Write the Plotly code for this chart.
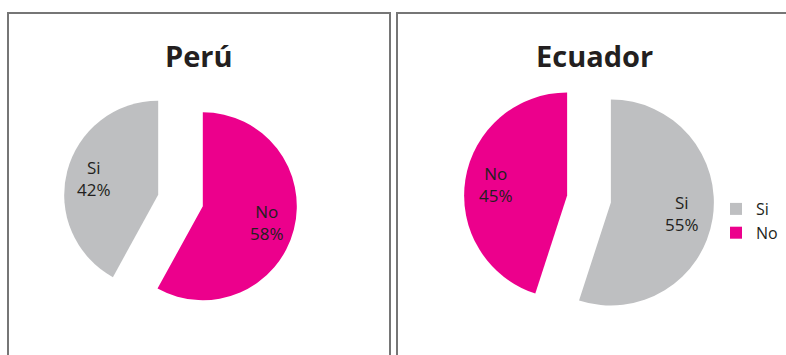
import math
import plotly.graph_objects as go

# Survey answers per country (percent)
peru_labels = ["No", "Si"]
peru_values = [58, 42]
ecuador_labels = ["Si", "No"]
ecuador_values = [55, 45]
titles = ["Perú", "Ecuador"]

colors = {"Si": "#BEBFC1", "No": "#EC008C"}

W, H = 786, 355
FONT = "Open Sans"
TEXT = "#231F20"

fig = go.Figure()


def add_pie(labels, values, cx, cy, r, pull):
    """Exploded pie centred at pixel (cx, cy) with radius r, labels inside."""
    half = r * (1 + pull)
    domain = dict(x=[(cx - half) / W, (cx + half) / W],
                  y=[(H - (cy + half)) / H, (H - (cy - half)) / H])
    fig.add_trace(go.Pie(
        labels=labels,
        values=values,
        sort=False,
        direction="clockwise",
        rotation=0,
        pull=[pull] * len(values),
        marker=dict(colors=[colors[l] for l in labels]),
        textinfo="none",
        domain=domain,
        hoverinfo="label+percent",
    ))
    # category / percent labels placed along each slice's mid angle
    total = sum(values)
    start = 0.0
    for lab, v in zip(labels, values):
        mid = 2 * math.pi * (start + v / 2) / total
        start += v
        d = r * (pull + 0.70)
        px = cx + d * math.sin(mid)
        py = cy - d * math.cos(mid)
        fig.add_annotation(
            text=f"{lab}<br>{round(100 * v / total)}%",
            x=px / W, y=(H - py) / H, xref="paper", yref="paper",
            showarrow=False, xanchor="center", yanchor="middle",
            font=dict(family=FONT, size=17, color=TEXT),
        )


# Ecuador first so the legend lists Si before No
add_pie(ecuador_labels, ecuador_values, 589, 199, 103, 0.215)
add_pie(peru_labels, peru_values, 180.5, 200.5, 94, 0.245)

# Panel frames
frame = dict(color="#767676", width=2)
top = (H - 13) / H
fig.add_shape(type="path", xref="paper", yref="paper",
              path=f"M {8/W},-0.05 L {8/W},{top} L {390/W},{top} L {390/W},-0.05",
              line=frame)
fig.add_shape(type="path", xref="paper", yref="paper",
              path=f"M 1.05,{top} L {397/W},{top} L {397/W},-0.05",
              line=frame)

for t, cx in zip(titles, [199, 594]):
    fig.add_annotation(text=f"<b>{t}</b>", x=cx / W, y=(H - 55) / H,
                       xref="paper", yref="paper", showarrow=False,
                       xanchor="center", yanchor="middle",
                       font=dict(family=FONT, size=29, color=TEXT))

fig.update_layout(
    width=W, height=H,
    margin=dict(l=0, r=0, t=0, b=0),
    paper_bgcolor="white",
    plot_bgcolor="white",
    showlegend=True,
    legend=dict(x=716 / W, y=(H - 221) / H, xanchor="left", yanchor="middle",
                font=dict(family=FONT, size=16, color=TEXT),
                bgcolor="rgba(0,0,0,0)", traceorder="normal"),
)

fig.write_html("out.html")
